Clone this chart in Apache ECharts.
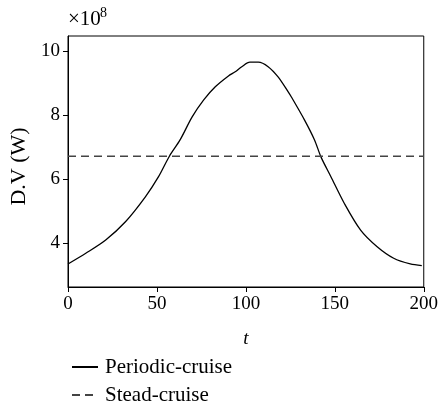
<!DOCTYPE html>
<html>
<head>
<meta charset="utf-8">
<script src="https://cdn.jsdelivr.net/npm/echarts@6/dist/echarts.min.js"></script>
<style>
html,body{margin:0;padding:0;background:#fff;}
#chart{width:441px;height:407px;}
</style>
</head>
<body>
<div id="chart"></div>
<script>
// Data (values in units of 1e8 W)
var tValues = [0, 10, 21.2, 32.3, 43.5, 50.9, 57, 63, 69.8, 76.3, 82.8, 90.2, 94, 97.7, 102.3, 107, 112.5, 118.1, 123.7, 125.5, 133, 138.6, 142.2, 147.8, 155.3, 164.5, 173.8, 183.1, 192.4, 198.9];
var periodicValues = [3.34, 3.675, 4.09, 4.66, 5.44, 6.07, 6.71, 7.22, 7.94, 8.47, 8.88, 9.22, 9.35, 9.51, 9.65, 9.65, 9.51, 9.19, 8.73, 8.57, 7.84, 7.22, 6.69, 6.07, 5.24, 4.40, 3.88, 3.52, 3.34, 3.29];
var steadValue = 6.71;
var steadRange = [0, 200];
var xTicks = [0, 50, 100, 150, 200];
var yTicks = [4, 6, 8, 10];
var seriesNames = ['Periodic-cruise', 'Stead-cruise'];
var scaleText = '×10';
var scaleExp = '8';

var periodicData = tValues.map(function (t, i) { return [t, periodicValues[i]]; });
var steadData = steadRange.map(function (t) { return [t, steadValue]; });

var FONT = '"Liberation Serif", "Times New Roman", serif';
var chart = echarts.init(document.getElementById('chart'), null, {renderer: 'canvas'});
chart.setOption({
  animation: false,
  backgroundColor: '#fff',
  textStyle: {fontFamily: FONT, color: '#000'},
  grid: {left: 68, right: 14, top: 36, bottom: 120, show: true, borderColor: '#000', borderWidth: 1, backgroundColor: 'transparent'},
  title: [
    {
      text: scaleText, left: 63, top: 4, padding: [5, 5, 5, 5],
      textStyle: {fontSize: 21, fontWeight: 'normal', fontFamily: FONT, color: '#000'}
    },
    {
      text: scaleExp, left: 95, top: 1, padding: [5, 5, 5, 5],
      textStyle: {fontSize: 14, fontWeight: 'normal', fontFamily: FONT, color: '#000'}
    }
  ],
  xAxis: {
    type: 'value', min: 0, max: 200, interval: 50,
    name: 't', nameLocation: 'middle', nameGap: 42,
    nameTextStyle: {fontStyle: 'italic', fontSize: 19, fontFamily: FONT, color: '#000'},
    axisLine: {show: true, lineStyle: {color: '#000', width: 1}},
    axisTick: {show: true, length: 5, inside: false, lineStyle: {color: '#000'}},
    axisLabel: {fontSize: 19, fontFamily: FONT, color: '#000', margin: 8},
    splitLine: {show: false}
  },
  yAxis: {
    type: 'value', min: 2.62, max: 10.47,
    name: 'D.V (W)', nameLocation: 'middle', nameGap: 36, nameRotate: 90,
    nameTextStyle: {fontSize: 22, fontFamily: FONT, color: '#000', padding: [0, 10, 0, 0]},
    axisLine: {show: true, lineStyle: {color: '#000', width: 1}},
    axisTick: {show: true, length: 5, inside: false, customValues: yTicks, lineStyle: {color: '#000'}},
    axisLabel: {fontSize: 19, fontFamily: FONT, color: '#000', margin: 8, customValues: yTicks},
    splitLine: {show: false}
  },
  legend: {
    orient: 'vertical', left: 66, top: 351, height: 60,
    itemWidth: 26, itemHeight: 14, itemGap: 6,
    itemStyle: {color: 'rgba(0,0,0,0)', borderWidth: 0, opacity: 0},
    textStyle: {fontSize: 21, lineHeight: 22, fontFamily: FONT, color: '#000', padding: [0, 0, 0, 2]},
    data: [{name: seriesNames[0]}, {name: seriesNames[1]}]
  },
  series: [
    {
      name: seriesNames[0], type: 'line', data: periodicData, symbol: 'none', smooth: 0.3,
      lineStyle: {color: '#000', width: 1.3}, itemStyle: {color: '#000'}
    },
    {
      name: seriesNames[1], type: 'line', data: steadData, symbol: 'none',
      lineStyle: {color: '#444', width: 1.5, type: [8, 5]}, itemStyle: {color: '#444'}
    }
  ]
});
</script>
</body>
</html>
